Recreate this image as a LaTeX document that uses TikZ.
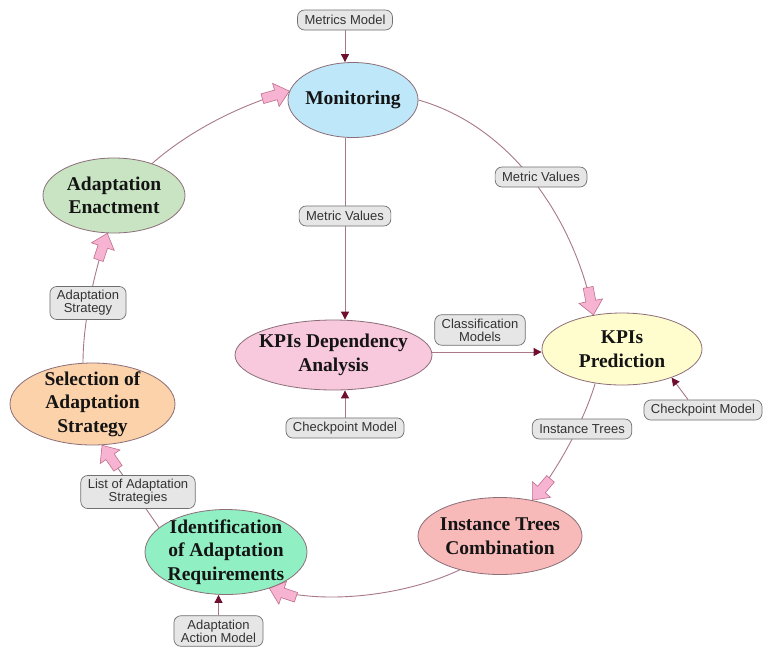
\documentclass[tikz,border=0pt]{standalone}
\usepackage{fontspec}
\setmainfont{Liberation Serif}
\newfontfamily\labfont{Liberation Sans}
\usetikzlibrary{arrows.meta,decorations.markings,shapes.geometric}
\pgfdeclarelayer{bg}
\pgfsetlayers{bg,main}
\definecolor{ellborder}{HTML}{8C6E78}
\definecolor{labborder}{HTML}{707070}
\definecolor{labfill}{HTML}{E6E6E6}
\definecolor{labtext}{HTML}{333333}
\definecolor{conncol}{HTML}{A8788A}
\definecolor{arrdark}{HTML}{6E0F30}
\definecolor{pinkfill}{HTML}{F7B4D2}
\definecolor{pinkdraw}{HTML}{C06E8C}
\definecolor{ptextcol}{HTML}{141414}
\definecolor{cmon}{HTML}{BEE8FA}
\definecolor{cenact}{HTML}{C8E4C3}
\definecolor{csel}{HTML}{FCD2AA}
\definecolor{cidn}{HTML}{90F0C3}
\definecolor{citc}{HTML}{F8B9B9}
\definecolor{ckp}{HTML}{FFFDCD}
\definecolor{ckda}{HTML}{F8C8DC}
\begin{document}
\begin{tikzpicture}[x=1pt,y=-1pt,
  proc/.style={ellipse, draw=ellborder, line width=0.8pt, inner sep=0pt},
  ptext/.style={align=center, font=\fontsize{19.5}{23.5}\selectfont\bfseries, text=ptextcol, inner sep=0pt},
  lab/.style={rectangle, rounded corners=7pt, draw=labborder, fill=labfill, line width=0.7pt,
    font=\labfont\fontsize{13}{13}\selectfont, text=labtext, inner xsep=7pt, inner ysep=4pt,
    minimum height=20pt, align=center},
  conn/.style={draw=conncol, line width=0.9pt},
  darr/.style={conn, -{Triangle[length=8pt,width=8pt,color=arrdark]}},
  parr/.style={conn, postaction={decorate}, decoration={markings, mark=at position -0.1pt with {\filldraw[fill=pinkfill, draw=pinkdraw, line width=0.6pt] (0pt,0pt) -- (-14pt,12pt) -- (-14pt,5pt) -- (-28pt,5pt) -- (-28pt,-5pt) -- (-14pt,-5pt) -- (-14pt,-12pt) -- cycle;}}}
]
\begin{pgfonlayer}{bg}
\fill[white] (0,0) rectangle (765,646);
\end{pgfonlayer}
\useasboundingbox (0,0) rectangle (765,646);

% process ellipses
\node[proc, fill=cmon, minimum width=130pt, minimum height=75pt] (mon) at (353,100) {};
\node[ptext] (mont) at (mon) {Monitoring};
\node[proc, fill=cenact, minimum width=142pt, minimum height=75pt] (enact) at (114,195.5) {};
\node[ptext] (enactt) at (enact) {Adaptation\\Enactment};
\node[proc, fill=csel, minimum width=165pt, minimum height=82pt] (sel) at (92.5,404) {};
\node[ptext] (selt) at (sel) {Selection of\\Adaptation\\Strategy};
\node[proc, fill=cidn, minimum width=162pt, minimum height=85pt] (idn) at (226,552) {};
\node[ptext] (idnt) at (idn) {Identification\\of Adaptation\\Requirements};
\node[proc, fill=citc, minimum width=164pt, minimum height=77pt] (itc) at (500,536) {};
\node[ptext] (itct) at (itc) {Instance Trees\\Combination};
\node[proc, fill=ckp, minimum width=160pt, minimum height=72pt] (kp) at (622,349) {};
\node[ptext] (kpt) at (kp) {KPIs\\Prediction};
\node[proc, fill=ckda, minimum width=197pt, minimum height=70pt] (kda) at (333.5,355) {};
\node[ptext] (kdat) at (kda) {KPIs Dependency\\Analysis};

% labels
\node[lab] (mm) at (345,20) {Metrics Model};
\node[lab] (lv1) at (345,216) {Metric Values};
\node[lab] (lv2) at (541,177) {Metric Values};
\node[lab] (lcm) at (480,330) {Classification\\Models};
\node[lab] (cm1) at (345,428) {Checkpoint Model};
\node[lab] (cm2) at (703,410) {Checkpoint Model};
\node[lab] (lit) at (582,429) {Instance Trees};
\node[lab] (aam) at (218.5,631) {Adaptation\\Action Model};
\node[lab] (llas) at (138,492) {List of Adaptation\\Strategies};
\node[lab] (las) at (88,303) {Adaptation\\Strategy};

\coordinate (hl) at (0,352);
\begin{pgfonlayer}{bg}
\draw[darr] (mm.south) -- (mm.south |- mon.north);
\draw[darr] (lv1.north |- mon.south) -- (lv1.south |- kda.north);
\draw[darr] (cm1.north) -- (cm1.north |- kda.south);
\draw[darr] ([xshift=-15pt]cm2.north) -- (kp.330);
\draw[darr] (kda.east |- hl) -- (kp.west |- hl);
\draw[darr] (aam.north) -- (aam.north |- idn.south);

\draw[parr] (enact.40) .. controls (189,131) and (240,105) .. (mon.172);
\draw[parr] (mon.east) .. controls (511,126) and (575,219) .. (kp.130);
\draw[parr] (kp.232) .. controls (585,418) and (559,469) .. (itc.48);
\draw[parr] (itc.220) .. controls (402,597) and (319,605) .. (idn.320);
\draw[parr] (idn.160) -- (sel.283);
\draw[parr] (sel.103) .. controls (83,320) and (95,270) .. (enact.260);
\end{pgfonlayer}
\end{tikzpicture}
\end{document}
